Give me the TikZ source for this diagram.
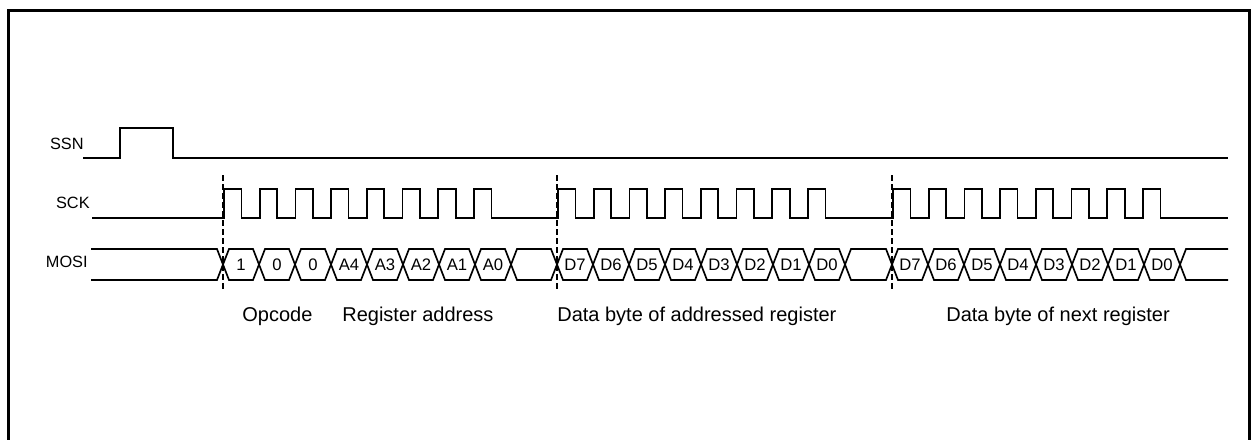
\documentclass[tikz,border=0pt]{standalone}
\usepackage{fontspec}
\setmainfont{Liberation Sans}
\usetikzlibrary{positioning}
\newcommand{\bitw}{36}
\newcommand{\clkw}{35.7}
\tikzset {
    signal/.style={line width=1pt, line join=miter},
    sync/.style={line width=1.7pt, dash pattern=on 3.6pt off 1.8pt},
    frame/.style={line width=1.8pt},
    siglabel/.style={anchor=base east, inner sep=0pt,
        font=\fontsize{9.8}{11}\selectfont},
    bit/.style={inner sep=0pt, font=\fontsize{10}{11}\selectfont},
    field/.style={anchor=base west, inner sep=0pt,
        font=\fontsize{12}{14}\selectfont}
}

\begin{document}
\begin{tikzpicture}[x=0.6pt, y=-0.6pt]

        \useasboundingbox (0,0) rectangle (1251,439);
        \draw[frame] (8,450) -- (8,10) -- (1249,10) -- (1249,450);

        \node[siglabel] (ssn) at (84,149) {SSN};
        \node[siglabel] (sck) at (90,208) {SCK};
        \node[siglabel] (mosi) at (88,267) {MOSI};

        % select line
        \draw[signal] (83,158) -- (120,158) -- (120,128) -- (173,128)
            -- (173,158) -- (1228,158);

        % clock bursts
        \draw[signal] (92,218) foreach \s in {223,557,892} {
            -- ({\s+1},218) foreach \k in {0,...,7} {
                -- ({\s+1+\k*\clkw},218) -- ++(0,-29) -- ++(17.5,0) -- ++(0,29)
            }
        } -- (1228,218);

        % data bus
        \draw[signal] (91,249) -- (217,249) -- (223,264.5) -- (217,280) -- (91,280);
        \foreach \g/\s/\bits in {1/223/{1,0,0,A4,A3,A2,A1,A0},
                2/557/{D7,D6,D5,D4,D3,D2,D1,D0},
                3/892/{D7,D6,D5,D4,D3,D2,D1,D0}} {
            \foreach \b [count=\i from 0] in \bits {
                \draw[signal] ({\s+\i*\bitw},264.5) -- ++(6,-15.5)
                    -- ({\s+(\i+1)*\bitw-6},249) -- ({\s+(\i+1)*\bitw},264.5)
                    -- ({\s+(\i+1)*\bitw-6},280) -- ({\s+\i*\bitw+6},280) -- cycle;
                \node[bit] (bit\g-\i) at ({\s+(\i+0.5)*\bitw},264.5) {\b};
            }
        }
        \foreach \a/\e in {511/557, 845/892} {
            \draw[signal] (\a,264.5) -- ++(6,-15.5) -- ({\e-6},249) -- (\e,264.5)
                -- ({\e-6},280) -- ({\a+6},280) -- cycle;
        }
        \draw[signal] (1228,249) -- (1186,249) -- (1180,264.5) -- (1186,280) -- (1228,280);

        % byte boundaries
        \foreach \s in {223,557,892}
            \draw[sync] (\s,175) -- (\s,290);

        \node[field] (opcode) at (242,321) {Opcode};
        \node[field] (regaddr) at (342,321) {Register address};
        \node[field] (databyte) at (557,321) {Data byte of addressed register};
        \node[field] (nextbyte) at (946,321) {Data byte of next register};

\end{tikzpicture}
\end{document}
